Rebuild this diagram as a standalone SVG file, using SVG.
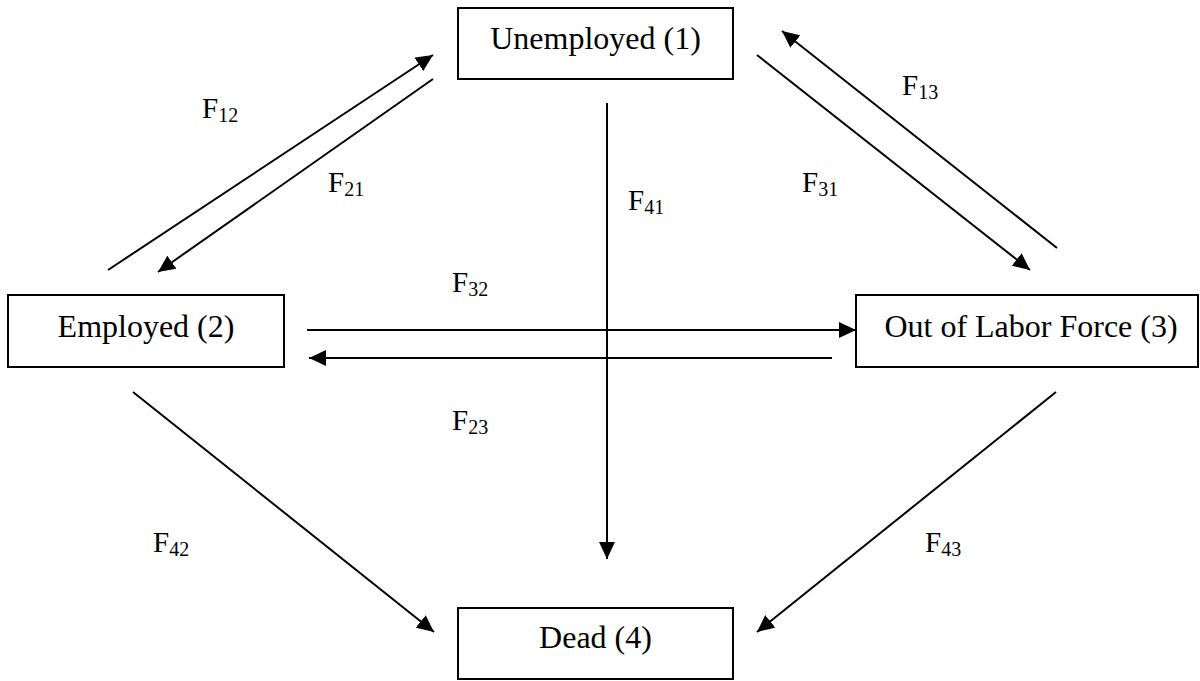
<svg xmlns="http://www.w3.org/2000/svg" width="1200" height="681" viewBox="0 0 1200 681">
  <defs>
    <marker id="arrow" markerUnits="userSpaceOnUse" markerWidth="18" markerHeight="16" refX="17" refY="8" orient="auto" viewBox="0 0 18 16">
      <path d="M0,0 L17,8 L0,16 Z" fill="#000"/>
    </marker>
    <style>
      .box { fill: #fff; stroke: #000; stroke-width: 2; }
      .node-text { font-size: 32px; fill: #000; text-anchor: middle; }
      .conn { stroke: #000; stroke-width: 2; fill: none; marker-end: url(#arrow); }
      .lbl { font-size: 29px; fill: #000; }
      .sub { font-size: 20px; }
    </style>
  </defs>
  <rect width="1200" height="681" fill="#fff"/>

  <g id="connectors">
    <line class="conn" x1="108" y1="270" x2="433" y2="55"/>
    <line class="conn" x1="433" y1="79" x2="158" y2="272"/>
    <line class="conn" x1="1057" y1="248" x2="782" y2="31"/>
    <line class="conn" x1="757" y1="55" x2="1030" y2="270"/>
    <line class="conn" x1="607" y1="103" x2="607" y2="559"/>
    <line class="conn" x1="307" y1="330" x2="856" y2="330"/>
    <line class="conn" x1="832" y1="358" x2="309" y2="358"/>
    <line class="conn" x1="133" y1="392" x2="434" y2="632"/>
    <line class="conn" x1="1056" y1="392" x2="757" y2="632"/>
  </g>

  <g id="labels" font-family="Liberation Serif, Times New Roman, serif">
    <text class="lbl" x="202" y="118">F<tspan class="sub" dy="4">12</tspan></text>
    <text class="lbl" x="328" y="192">F<tspan class="sub" dy="4">21</tspan></text>
    <text class="lbl" x="902" y="95">F<tspan class="sub" dy="4">13</tspan></text>
    <text class="lbl" x="802" y="192">F<tspan class="sub" dy="4">31</tspan></text>
    <text class="lbl" x="628" y="210">F<tspan class="sub" dy="4">41</tspan></text>
    <text class="lbl" x="452" y="292">F<tspan class="sub" dy="4">32</tspan></text>
    <text class="lbl" x="452" y="430">F<tspan class="sub" dy="4">23</tspan></text>
    <text class="lbl" x="153" y="552">F<tspan class="sub" dy="4">42</tspan></text>
    <text class="lbl" x="925" y="552">F<tspan class="sub" dy="4">43</tspan></text>
  </g>

  <g id="node1" font-family="Liberation Serif, Times New Roman, serif">
    <rect class="box" x="458" y="8" width="275" height="71"/>
    <text class="node-text" x="595.5" y="49">Unemployed (1)</text>
  </g>
  <g id="node2" font-family="Liberation Serif, Times New Roman, serif">
    <rect class="box" x="8" y="295" width="276" height="72"/>
    <text class="node-text" x="146" y="337">Employed (2)</text>
  </g>
  <g id="node3" font-family="Liberation Serif, Times New Roman, serif">
    <rect class="box" x="856" y="295" width="342" height="72"/>
    <text class="node-text" x="1031" y="337">Out of Labor Force (3)</text>
  </g>
  <g id="node4" font-family="Liberation Serif, Times New Roman, serif">
    <rect class="box" x="458" y="608" width="275" height="71"/>
    <text class="node-text" x="595.5" y="648">Dead (4)</text>
  </g>
</svg>
